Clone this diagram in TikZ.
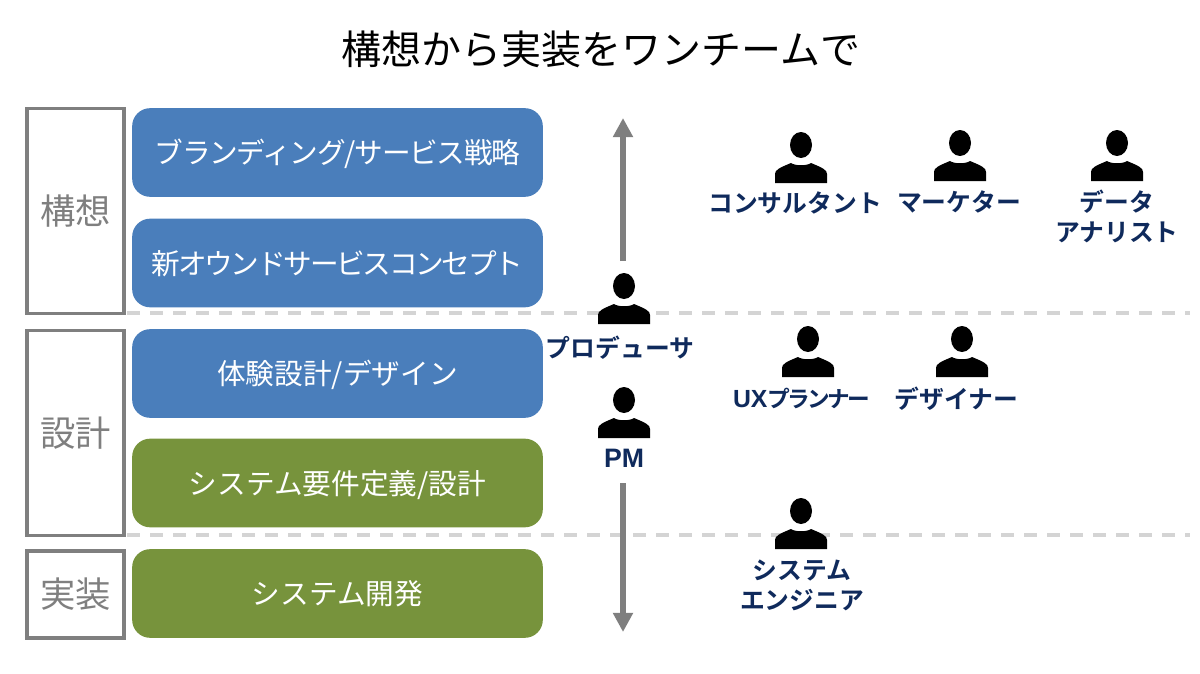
\documentclass[tikz,border=0pt]{standalone}
\usepackage{fontspec}
\setmainfont{Noto Sans CJK JP}[BoldFont={Noto Sans CJK JP Bold}]
\newfontfamily\rolelatin{Liberation Sans}
\usepackage{tikz}
\usetikzlibrary{arrows.meta}
\definecolor{stageblue}{HTML}{4A7EBB}
\definecolor{stagegreen}{HTML}{77933C}
\definecolor{rolenavy}{HTML}{0F2A5C}
\definecolor{phasegray}{HTML}{7F7F7F}
\begin{document}
\begin{tikzpicture}[x=0.75pt,y=-0.75pt,
  phase/.style={draw=phasegray,line width=2.7pt,fill=white,text=phasegray,minimum width=73pt,
    inner sep=0pt,font=\fontsize{26.5}{26.5}\selectfont},
  stage/.style={rounded corners=13.5pt,text=white,minimum width=308pt,minimum height=66.5pt,
    inner sep=0pt,text height=20.2pt,text depth=3pt,font=\fontsize{21.5}{25}\selectfont},
  border/.style={draw=black!17,line width=2.5pt,dash pattern=on 9.75pt off 7.5pt},
  span/.style={draw=phasegray,line width=5pt,-{Triangle[length=14.3pt,width=14.3pt]}},
  role/.style={text=rolenavy,align=center,inner sep=0pt,font=\fontsize{18.6}{22.5}\selectfont\bfseries},
  person/.pic={
    \fill[black] (0,-38) ellipse [x radius=11,y radius=13];
    \fill[black] (-26,0) -- (-26,-9) .. controls (-26,-13) and (-22,-15) .. (-10,-20)
      .. controls (-6,-17) and (6,-17) .. (10,-20)
      .. controls (22,-15) and (26,-13) .. (26,-9) -- (26,0) -- cycle;
  }]
\useasboundingbox (0,0) rectangle (1200,674);
\node[font=\fontsize{30}{30}\selectfont] (title) at (601,49) {構想から実装をワンチームで};
% section borders run behind everything
\foreach \name/\y in {upper/313,lower/535} {
  \coordinate (\name w) at (127,\y);
  \coordinate (\name e) at (1190,\y);
  \draw[border] (\name w) -- (\name e);
}
\node[phase,minimum height=154pt] (concept) at (75.5,211) {構想};
\node[phase,minimum height=154pt] (design) at (75.5,433) {設計};
\node[phase,minimum height=65pt] (build) at (75.5,594.5) {実装};
\node[stage,fill=stageblue] (brand) at (337.5,152.5) {\addfontfeature{LetterSpace=-4.3}ブランディング/サービス戦略};
\node[stage,fill=stageblue] (service) at (337.5,263) {\addfontfeature{LetterSpace=-8}新オウンドサービスコンセプト};
\node[stage,fill=stageblue] (ux) at (337.5,373.5) {体験設計/デザイン};
\node[stage,fill=stagegreen] (spec) at (337.5,483) {システム要件定義/設計};
\node[stage,fill=stagegreen] (dev) at (337.5,593.5) {システム開発};
% arrows out of the two middle people
\coordinate (upfoot) at (623,261);
\coordinate (uptip) at (623,118);
\coordinate (downfoot) at (623,483);
\coordinate (downtip) at (623,632);
\draw[span] (upfoot) -- (uptip);
\draw[span] (downfoot) -- (downtip);
\foreach \name/\x/\y in {consultant/801/183,marketer/960/181,analyst/1117/181,
                         producer/624/324,planner/808/377,designer/962/377,
                         manager/624/438,engineer/801/549}
  \pic (\name) at (\x,\y) {person};
\node[role] (consultantlabel) at (795,202.5) {コンサルタント};
\node[role] (marketerlabel) at (959,201.5) {マーケター};
\node[role] (analystlabel) at (1117,216.5) {データ\\アナリスト};
\node[role] (producerlabel) at (620,347.5) {プロデューサ};
\node[role] (plannerlabel) at (801.5,398.5) {{\rolelatin UX}{\fontsize{17}{22.5}\selectfont\addfontfeature{LetterSpace=-12}プランナー}};
\node[role] (designerlabel) at (956.5,398.5) {デザイナー};
\node[role] (managerlabel) at (624,458.5) {\rolelatin\fontsize{20}{22}\selectfont PM};
\node[role] (engineerlabel) at (802,585.5) {システム\\エンジニア};
\end{tikzpicture}
\end{document}
